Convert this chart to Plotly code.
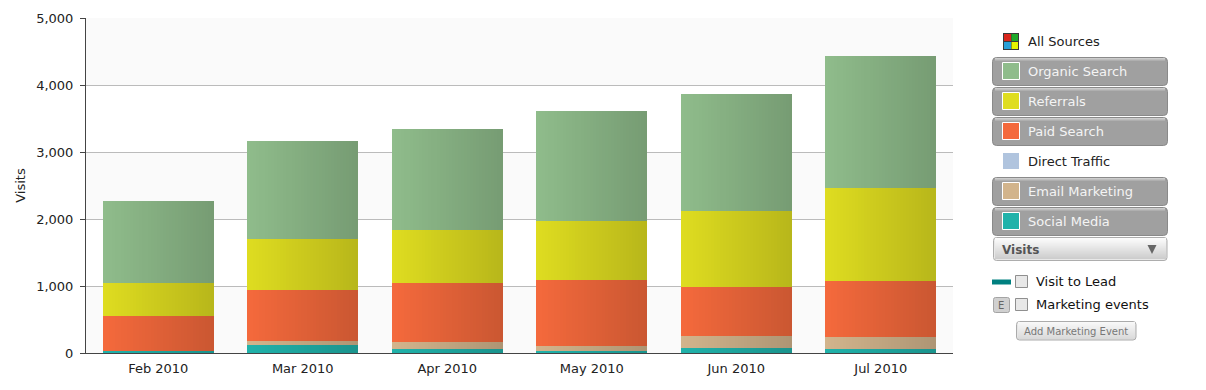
import plotly.graph_objects as go

months = ["Feb 2010", "Mar 2010", "Apr 2010", "May 2010", "Jun 2010", "Jul 2010"]
social = [30, 115, 55, 30, 75, 65]
email = [0, 65, 110, 70, 180, 175]
paid = [520, 760, 880, 995, 730, 840]
referrals = [495, 760, 790, 880, 1135, 1385]
organic = [1220, 1465, 1510, 1635, 1745, 1970]

series = [
    ("Social Media", social, (32, 178, 170)),
    ("Email Marketing", email, (210, 180, 140)),
    ("Paid Search", paid, (244, 105, 60)),
    ("Referrals", referrals, (222, 220, 32)),
    ("Organic Search", organic, (143, 188, 139)),
]
y_ticks = [0, 1000, 2000, 3000, 4000, 5000]

W, H = 1206, 390
L, R, T, B = 86, 953, 18, 353
PXU = (R - L) / 6
BAR_PX = 111
STEP = 3
N = BAR_PX // STEP
DARK = 0.83


def mix(c, f):
    return "rgb(%d,%d,%d)" % tuple(round(v * f) for v in c)


fig = go.Figure()
for name, vals, col in series:
    xs, ys, cs, ws = [], [], [], []
    for m, v in enumerate(vals):
        for k in range(N):
            off_px = (k + 0.5) * STEP
            f = 1 - (1 - DARK) * k / (N - 1)
            xs.append(m + (off_px - BAR_PX / 2) / PXU)
            ys.append(v)
            cs.append(mix(col, f))
            ws.append(STEP / PXU)
    fig.add_trace(go.Bar(x=xs, y=ys, width=ws, name=name,
                         marker=dict(color=cs, line=dict(width=0))))

shapes, ann = [], []


def px(x):
    return (x - L) / (R - L)


def py(y):
    return (B - y) / (B - T)


def rect(x0, y0, x1, y1, fill, line=None, lw=1):
    shapes.append(dict(type="rect", xref="paper", yref="paper", x0=px(x0), x1=px(x1),
                       y0=py(y0), y1=py(y1), fillcolor=fill,
                       line=dict(color=line or fill, width=lw if line else 0), layer="above"))


def rrect(x0, y0, x1, y1, r, fill, line=None):
    a, b, c, d = px(x0), px(x1), py(y0), py(y1)
    rx, ry = r / (R - L), r / (B - T)
    path = (f"M{a+rx},{c} L{b-rx},{c} Q{b},{c} {b},{c-ry} L{b},{d+ry} Q{b},{d} {b-rx},{d} "
            f"L{a+rx},{d} Q{a},{d} {a},{d+ry} L{a},{c-ry} Q{a},{c} {a+rx},{c} Z")
    shapes.append(dict(type="path", xref="paper", yref="paper", path=path, fillcolor=fill,
                       line=dict(color=line or fill, width=1 if line else 0), layer="above"))


def text(x, y, s, size=13, color="#222", font="DejaVu Sans", anchor="left"):
    ann.append(dict(xref="paper", yref="paper", x=px(x), y=py(y), text=s, showarrow=False,
                    xanchor=anchor, yanchor="middle", borderpad=0, borderwidth=0,
                    font=dict(family=font, size=size, color=color)))


def lerp(a, b, t):
    return "rgb(%d,%d,%d)" % tuple(round(a[i] + (b[i] - a[i]) * t) for i in range(3))


# alternating plot bands
for lo, hi in zip(y_ticks[:-1], y_ticks[1:]):
    if lo // 1000 % 2 == 0:
        shapes.append(dict(type="rect", xref="paper", yref="y", x0=0, x1=1, y0=lo, y1=hi,
                           fillcolor="#fafafa", line=dict(width=0), layer="below"))

# selector panel
rect(1003, 33, 1019, 50, "#3a3a3a")
rect(1004, 34, 1011, 41, "#d9261c")
rect(1011.5, 34, 1018, 41, "#1fa92b")
rect(1004, 42, 1011, 49, "#2a9fd6")
rect(1011.5, 42, 1018, 49, "#e6f500")
text(1028, 41.5, "All Sources")

buttons = [(57, "Organic Search", "#8FBC8B"), (87, "Referrals", "#DFDD1F"),
           (117, "Paid Search", "#F4693C"), (177, "Email Marketing", "#D2B48C"),
           (207, "Social Media", "#20B2AA")]
for y0, label, col in buttons:
    rrect(992.5, y0 + 0.5, 1167.5, y0 + 28.5, 4, "#a0a0a0", "#8a8a8a")
    for i in range(4):
        rect(995, y0 + 1 + i, 1165, y0 + 2 + i, lerp((205, 205, 205), (160, 160, 160), i / 3))
    rect(1002.5, y0 + 5.5, 1019.5, y0 + 22.5, col, "#ffffff")
    text(1028, y0 + 14.5, label, color="#f4f4f4")

rect(1003, 153, 1019, 169, "#B0C4DE")
text(1028, 161.5, "Direct Traffic")

rrect(993.5, 237.5, 1167, 260.5, 3, "#e8e8e8", "#adadad")
for i in range(21):
    rect(995, 238 + i, 1166, 239 + i, lerp((252, 252, 252), (205, 205, 205), i / 20))
text(1002, 249.5, "<b>Visits</b>", size=12, color="#555")
shapes.append(dict(type="path", xref="paper", yref="paper",
                   path=f"M{px(1147.5)},{py(245)} L{px(1156.5)},{py(245)} L{px(1152)},{py(254)} Z",
                   fillcolor="#666", line=dict(width=0), layer="above"))

rect(992, 279.5, 1011, 284.5, "#008080")
for cy in (275.5, 298.5):
    rect(1015.5, cy, 1027.5, cy + 12, "#e8e8e8", "#8f8f8f")
text(1036, 281, "Visit to Lead", color="#111")
text(1036, 304, "Marketing events", color="#111")

rrect(993.5, 297.5, 1009.5, 312.5, 2, "#d0d0d0", "#a4a4a4")
text(1001.5, 305, "E", size=10, color="#666", anchor="center")

rrect(1016.5, 321.5, 1136, 340, 3, "#e6e6e6", "#ababab")
for i in range(17):
    rect(1018, 322 + i, 1135, 323 + i, lerp((248, 248, 248), (218, 218, 218), i / 16))
text(1076, 331, "Add Marketing Event", size=10, color="#777", anchor="center")

fig.update_layout(
    width=W, height=H, barmode="stack", bargap=0, showlegend=False,
    margin=dict(l=L, r=W - R, t=T, b=H - B, pad=0, autoexpand=False),
    paper_bgcolor="white", plot_bgcolor="white",
    font=dict(family="DejaVu Sans", size=13, color="#222"),
    shapes=shapes, annotations=ann,
    xaxis=dict(range=[-0.5, 5.5], tickmode="array", tickvals=list(range(6)), ticktext=months,
               showgrid=False, zeroline=False, showline=True, linecolor="#444", linewidth=1,
               ticks="", ticklabelstandoff=3, automargin=False, tickfont=dict(size=13, color="#222")),
    yaxis=dict(range=[0, 5000], tickmode="array", tickvals=y_ticks, tickformat=",",
               showgrid=True, gridcolor="#bbbbbb", gridwidth=1, zeroline=False,
               showline=True, linecolor="#444", linewidth=1, ticks="outside", ticklen=5,
               tickcolor="#444", ticklabelstandoff=4, automargin=False, tickfont=dict(size=13, color="#222"),
               title=dict(text="Visits", font=dict(size=13, color="#222"), standoff=7)),
)

fig.write_html("out.html", config=dict(displayModeBar=False),
               post_script="document.body.style.margin='0';document.body.style.overflow='hidden';")
